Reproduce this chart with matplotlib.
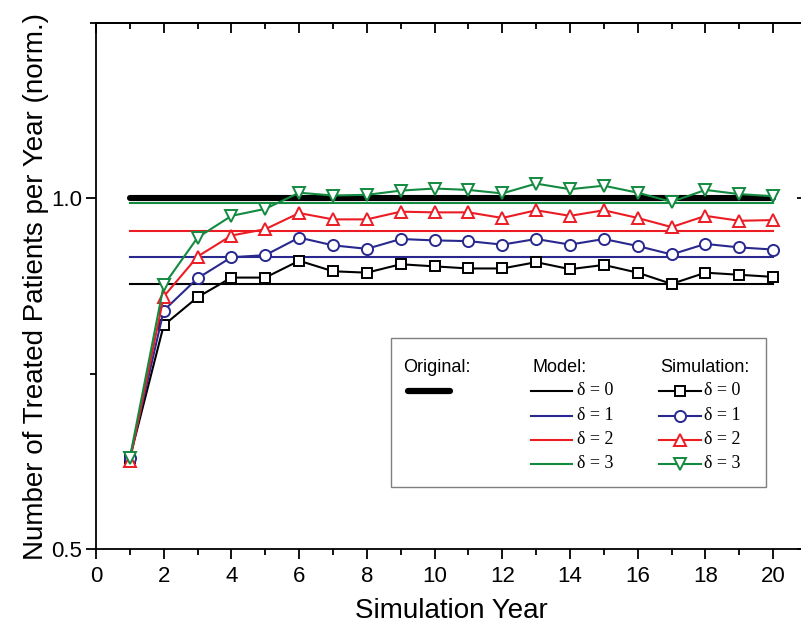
import matplotlib
matplotlib.use("Agg")
import matplotlib.pyplot as plt
from matplotlib.lines import Line2D
from matplotlib.patches import Rectangle
from matplotlib.ticker import MultipleLocator, NullFormatter, FormatStrFormatter

plt.rcParams['font.family'] = ['Liberation Sans', 'DejaVu Sans']

# data
years = list(range(1, 21))
original = 1.0
model = [0.878, 0.916, 0.954, 0.993]   # delta = 0..3, flat lines
sim_d0 = [0.630, 0.819, 0.859, 0.887, 0.887, 0.911, 0.896, 0.894, 0.906, 0.903,
          0.900, 0.900, 0.909, 0.899, 0.905, 0.894, 0.878, 0.894, 0.891, 0.888]
sim_d1 = [0.630, 0.840, 0.886, 0.916, 0.919, 0.944, 0.933, 0.928, 0.942, 0.940,
          0.939, 0.934, 0.942, 0.934, 0.942, 0.932, 0.920, 0.935, 0.930, 0.927]
sim_d2 = [0.625, 0.860, 0.917, 0.947, 0.956, 0.979, 0.970, 0.970, 0.981, 0.980,
          0.980, 0.972, 0.983, 0.975, 0.983, 0.972, 0.959, 0.975, 0.968, 0.969]
sim_d3 = [0.630, 0.876, 0.944, 0.975, 0.985, 1.008, 1.004, 1.005, 1.011, 1.014,
          1.012, 1.007, 1.021, 1.013, 1.018, 1.008, 0.995, 1.012, 1.006, 1.003]
simulations = [sim_d0, sim_d1, sim_d2, sim_d3]
delta_labels = ['\u03b4 = 0', '\u03b4 = 1', '\u03b4 = 2', '\u03b4 = 3']

colors = ['#000000', '#28288e', '#ec1c24', '#138a40']
markers = ['s', 'o', '^', 'v']
msizes = [7.0, 8.0, 9.0, 9.0]
lw = 1.5

fig = plt.figure(figsize=(8.01, 6.35), dpi=100)
# axes frame: left 96px, right 807px (cut off by the image), top 23px, bottom 549px
ax = fig.add_axes([96 / 801, 1 - 549 / 635, 711 / 801, 526 / 635])

# model lines first, then the thick original, then simulations on top
for val, c in zip(model, colors):
    ax.plot([years[0], years[-1]], [val, val], color=c, lw=lw, zorder=2)
ax.plot([years[0], years[-1]], [original, original], color='black', lw=4.4,
        solid_capstyle='round', zorder=3)
for vals, c, m, ms in zip(simulations, colors, markers, msizes):
    ax.plot(years, vals, color=c, lw=lw, marker=m, ms=ms, mfc='white',
            mec=c, mew=1.4, zorder=4)

ax.set_xlim(0, 21)
ax.set_ylim(0.5, 1.25)
ax.xaxis.set_major_locator(MultipleLocator(2))
ax.xaxis.set_minor_locator(MultipleLocator(1))
ax.yaxis.set_major_locator(MultipleLocator(0.5))
ax.yaxis.set_minor_locator(MultipleLocator(0.25))
ax.yaxis.set_major_formatter(FormatStrFormatter('%.1f'))

for sp in ax.spines.values():
    sp.set_linewidth(1.3)
ax.tick_params(which='both', direction='out', width=1.3, labelsize=16,
               top=False, right=False)
ax.tick_params(which='major', length=7)
ax.tick_params(which='minor', length=4)
ax.tick_params(axis='x', pad=5)
ax.tick_params(axis='y', pad=3)

# mirrored ticks on top and right point inwards
top = ax.secondary_xaxis('top')
top.xaxis.set_major_locator(MultipleLocator(2))
top.xaxis.set_minor_locator(MultipleLocator(1))
top.xaxis.set_major_formatter(NullFormatter())
top.tick_params(which='both', direction='in', width=1.3)
top.tick_params(which='major', length=7)
top.tick_params(which='minor', length=4)
right = ax.secondary_yaxis('right')
right.yaxis.set_major_locator(MultipleLocator(0.5))
right.yaxis.set_minor_locator(MultipleLocator(0.25))
right.yaxis.set_major_formatter(NullFormatter())
right.tick_params(which='both', direction='in', width=1.3)
right.tick_params(which='major', length=7)
right.tick_params(which='minor', length=4)
for sec in (top, right):
    for sp in sec.spines.values():
        sp.set_linewidth(1.3)

ax.set_xlabel('Simulation Year', fontsize=20, labelpad=8)
ax.set_ylabel('Number of Treated Patients per Year (norm.)', fontsize=20)
ax.yaxis.set_label_coords(-0.066, 0.5)


# hand-built legend box, positioned in pixels of the reference
def at(px, py):
    return ((px - 96) / 711, (549 - py) / 526)


box_x, box_y = at(391, 487)
ax.add_patch(Rectangle((box_x, box_y), 375 / 711, 149 / 526, transform=ax.transAxes,
                       facecolor='white', edgecolor='#7f7f7f', lw=1.0, zorder=6,
                       clip_on=False))

head_kw = dict(transform=ax.transAxes, fontsize=13, va='center', ha='left', zorder=7)
ax.text(*at(403, 368), 'Original:', **head_kw)
ax.text(*at(532, 368), 'Model:', **head_kw)
ax.text(*at(660, 368), 'Simulation:', **head_kw)

x0, y0 = at(408, 390.5)
x1, _ = at(450, 390.5)
ax.add_line(Line2D([x0, x1], [y0, y0], color='black', lw=4.5, solid_capstyle='round',
                   transform=ax.transAxes, zorder=7, clip_on=False))

row_y = [390.5, 415.5, 439.5, 463.5]
for ry, c, m, ms, lab in zip(row_y, colors, markers, msizes, delta_labels):
    mx0, yy = at(531, ry)
    mx1, _ = at(572, ry)
    ax.add_line(Line2D([mx0, mx1], [yy, yy], color=c, lw=lw,
                       transform=ax.transAxes, zorder=7, clip_on=False))
    ax.text(*at(577, ry), lab, transform=ax.transAxes, fontsize=13, va='center',
            ha='left', family=['Liberation Serif', 'DejaVu Serif'], zorder=7)
    sx0, _ = at(659, ry)
    sx1, _ = at(701, ry)
    smid, _ = at(680, ry)
    ax.add_line(Line2D([sx0, sx1], [yy, yy], color=c, lw=lw,
                       transform=ax.transAxes, zorder=7, clip_on=False))
    ax.add_line(Line2D([smid], [yy], marker=m, ms=ms, mfc='white', mec=c, mew=1.4,
                       transform=ax.transAxes, zorder=8, clip_on=False))
    ax.text(*at(704, ry), lab, transform=ax.transAxes, fontsize=13, va='center',
            ha='left', family=['Liberation Serif', 'DejaVu Serif'], zorder=7)

fig.savefig('out.png', dpi=100)
